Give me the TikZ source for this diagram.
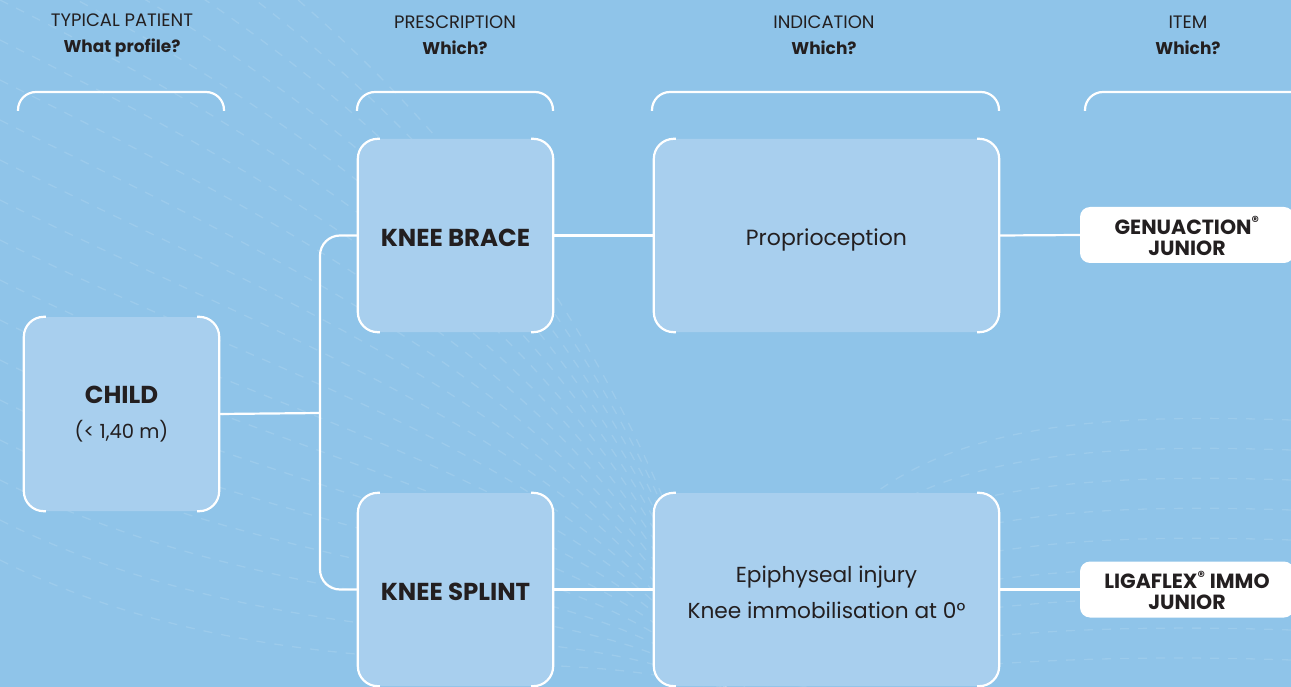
\documentclass[tikz,border=0pt]{standalone}
\usepackage{fontspec}
\setmainfont{Poppins}
\definecolor{bg}{HTML}{8FC4E9}
\definecolor{boxfill}{HTML}{A8CFEE}
\definecolor{ink}{HTML}{231F20}
\tikzset{
  x=1pt, y=-1pt,
  wline/.style={draw=white, line width=2.2pt},
  card/.style={fill=boxfill, rounded corners=20pt, inner sep=0pt},
  lbl/.style={align=center, text=ink, inner sep=0pt},
  itembox/.style={fill=white, rounded corners=10pt, inner sep=0pt},
  itemtext/.style={lbl, font=\fontsize{20.5}{21}\selectfont\bfseries},
  head/.style={align=center, text=ink, font=\fontsize{18}{26}\selectfont},
  bigbold/.style={font=\fontsize{24.5}{28}\selectfont\bfseries},
  texture/.style={draw=white, opacity=0.12, line width=1.3pt, dash pattern=on 9pt off 9pt},
}
\newcommand{\sidebrackets}[1]{%
  \draw[wline, rounded corners=20pt] ([xshift=22pt]#1.north west) -- (#1.north west) -- (#1.south west) -- ([xshift=22pt]#1.south west);
  \draw[wline, rounded corners=20pt] ([xshift=-22pt]#1.north east) -- (#1.north east) -- (#1.south east) -- ([xshift=-22pt]#1.south east);
}
\newcommand{\topbracket}[3]{% name, left x, right x
  \coordinate (#1l) at (#2,111);
  \coordinate (#1r) at (#3,111);
  \draw[wline, rounded corners=18pt] (#1l) -- (#2,92) -- (#3,92) -- (#1r);
}
\begin{document}
\begin{tikzpicture}
\fill[bg] (0,0) rectangle (1291,687);
\useasboundingbox (0,0) rectangle (1291,687);

% background texture
\foreach \yy in {-200,-160,...,560} {
  \draw[texture] (0,\yy) .. controls (300,{\yy+150}) and (620,{0.5*\yy+350}) .. (730,700);
}
\foreach \yy in {420,450,...,660} {
  \draw[texture] (1291,\yy) .. controls (1000,{\yy-10}) and (820,{\yy+20}) .. (740,700);
}

% headers
\node[head] (h1) at (122,35) {TYPICAL PATIENT\\\fontsize{17}{26}\selectfont\bfseries What profile?};
\node[head] (h2) at (455,35) {PRESCRIPTION\\\fontsize{17}{26}\selectfont\bfseries Which?};
\node[head] (h3) at (824,35) {INDICATION\\\fontsize{17}{26}\selectfont\bfseries Which?};
\node[head] (h4) at (1188,35) {ITEM\\\fontsize{17}{26}\selectfont\bfseries Which?};
\topbracket{b1}{18}{224}
\topbracket{b2}{357}{553}
\topbracket{b3}{652}{999}
\topbracket{b4}{1085}{1310}

% boxes
\node[card, minimum width=195pt, minimum height=194pt] (child) at (121.5,414) {};
\node[card, minimum width=195pt, minimum height=193pt] (brace) at (455.5,235.5) {};
\node[card, minimum width=195pt, minimum height=193pt] (splint) at (455.5,589.5) {};
\node[card, minimum width=345pt, minimum height=193pt] (prop) at (826.5,235.5) {};
\node[card, minimum width=345pt, minimum height=193pt] (epi) at (826.5,589.5) {};
\node[itembox, minimum width=214pt, minimum height=56pt] (genu) at (1187,235) {};
\node[itembox, minimum width=214pt, minimum height=56pt] (liga) at (1187,589.5) {};

% labels
\node[lbl, bigbold] (childT) at ([yshift=19pt]child.center) {CHILD};
\node[lbl, font=\fontsize{19.5}{22}\selectfont] (childS) at ([yshift=-17pt]child.center) {(< 1,40 m)};
\node[lbl, bigbold] (braceT) at ([yshift=-2pt]brace.center) {KNEE BRACE};
\node[lbl, bigbold] (splintT) at ([yshift=-2pt]splint.center) {KNEE SPLINT};
\node[lbl, font=\fontsize{22}{26}\selectfont] (propT) at ([yshift=-4pt]prop.center) {Proprioception};
\node[lbl, font=\fontsize{21.7}{36}\selectfont] (epiT) at ([yshift=-3pt]epi.center) {Epiphyseal injury\\Knee immobilisation at 0°};
\node[itemtext] (genuT) at ([yshift=-1pt]genu.center) {GENUACTION\textsuperscript{®}\\JUNIOR};
\node[itemtext] (ligaT) at ([yshift=-1pt]liga.center) {LIGAFLEX\textsuperscript{®} IMMO\\JUNIOR};

\sidebrackets{child}
\sidebrackets{brace}
\sidebrackets{splint}
\sidebrackets{prop}
\sidebrackets{epi}

% connectors
\coordinate (j) at (320,413);
\draw[wline] (child.east) -- (j);
\draw[wline, rounded corners=20pt] (brace.west) -| (j) |- (splint.west);
\draw[wline] (brace.east) -- (prop.west);
\draw[wline] (splint.east) -- (epi.west);
\draw[wline] (prop.east) -- (genu.west);
\draw[wline] (epi.east) -- (liga.west);
\end{tikzpicture}
\end{document}
